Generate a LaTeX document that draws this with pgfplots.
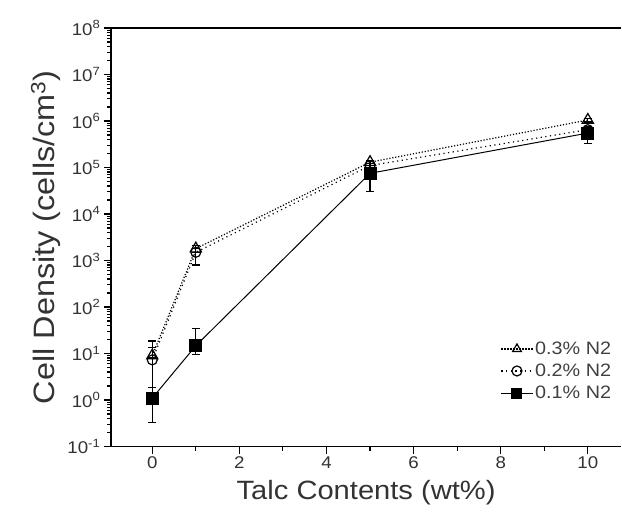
\documentclass[border=0pt]{standalone}
\usepackage{fontspec}
\setmainfont{Liberation Sans}[FakeStretch=1.1]
\usepackage{pgfplots}
\pgfplotsset{compat=1.18}

\begin{document}
\begin{tikzpicture}
\begin{axis}[
  scale only axis,
  width=511pt, height=419pt,
  xmin=-0.95, xmax=10.77,
  ymode=log, ymin=1e-1, ymax=1e8,
  axis lines=left,
  axis line style={-, line width=1.3pt},
  tick align=outside,
  tick style={black, line width=1.1pt},
  major tick length=7pt,
  minor tick length=4pt,
  xtick={0,2,4,6,8,10},
  minor x tick num=1,
  ytick={1e-1,1e0,1e1,1e2,1e3,1e4,1e5,1e6,1e7,1e8},
  yticklabels={10\textsuperscript{-1},10\textsuperscript{0},10\textsuperscript{1},10\textsuperscript{2},10\textsuperscript{3},10\textsuperscript{4},10\textsuperscript{5},10\textsuperscript{6},10\textsuperscript{7},10\textsuperscript{8}},
  /pgf/number format/assume math mode=true,
  ticklabel style={font=\fontsize{17}{17}\selectfont, text=black!80},
  xlabel={Talc Contents (wt\%)},
  ylabel={Cell Density (cells/cm\textsuperscript{3})},
  xlabel style={font=\fontsize{26.5}{26.5}\selectfont, text=black!80, yshift=-4pt},
  ylabel style={font=\fontsize{29.5}{29.5}\selectfont, text=black!80, yshift=0pt},
  legend style={draw=none, fill=none, at={(0.99,0.26)}, anchor=north east,
    font=\fontsize{18}{18}\selectfont, text=black!75, row sep=4pt,
    legend cell align=left},
  legend image code/.code={
    \draw[mark repeat=2, mark phase=2]
      plot coordinates {(0cm,0cm) (0.55cm,0cm) (1.1cm,0cm)};
  },
  legend image post style={mark size=5pt},
  error bars/error bar style={line width=1.2pt, solid},
  error bars/error mark options={rotate=90, mark size=4pt, line width=1.2pt, solid},
  extra description/.code={
    \draw[line width=1.3pt] (rel axis cs:0,1) -- (rel axis cs:1,1);
  },
]
% 0.3 % N2
\addplot[black, line width=1.2pt, dash pattern=on 1.2pt off 1.8pt,
  mark=triangle, mark size=6.5pt, mark options={solid, fill=white, line width=1.2pt},
  error bars/.cd, y dir=both, y explicit]
  coordinates {
    (0,9)      += (0,9.6)    -= (0,1)
    (1,1800)   += (0,300)    -= (0,300)
    (5,1.3e5)  += (0,1e4)    -= (0,1e4)
    (10,1.05e6) += (0,1e5)   -= (0,1e5)
  };
\addlegendentry{0.3\% N2}
% 0.2 % N2
\addplot[black, line width=1.2pt, dash pattern=on 1.2pt off 3.5pt,
  mark=o, mark size=5pt, mark options={solid, fill=white, line width=1.2pt},
  error bars/.cd, y dir=both, y explicit]
  coordinates {
    (0,7.3)    += (0,6)      -= (0,6.2)
    (1,1500)   += (0,300)    -= (0,700)
    (5,1.1e5)  += (0,1e4)    -= (0,1e4)
    (10,6.5e5) += (0,1e5)    -= (0,1e5)
  };
\addlegendentry{0.2\% N2}
% 0.1 % N2
\addplot[black, line width=1pt, solid,
  mark=square*, mark size=6pt, mark options={solid, fill=black},
  error bars/.cd, y dir=both, y explicit]
  coordinates {
    (0,1.1)    += (0,0.77)   -= (0,0.77)
    (1,14.7)   += (0,20)     -= (0,5)
    (5,7.5e4)  += (0,2e4)    -= (0,4.5e4)
    (10,5.5e5) += (0,1e5)    -= (0,2.2e5)
  };
\addlegendentry{0.1\% N2}
\end{axis}
% overall page extent
\path (current axis.south west) ++(-111pt,-79pt) coordinate (bbl);
\path (current axis.north east) ++(0pt,28pt) coordinate (bbr);
\useasboundingbox (bbl) rectangle (bbr);
\end{tikzpicture}
\end{document}
